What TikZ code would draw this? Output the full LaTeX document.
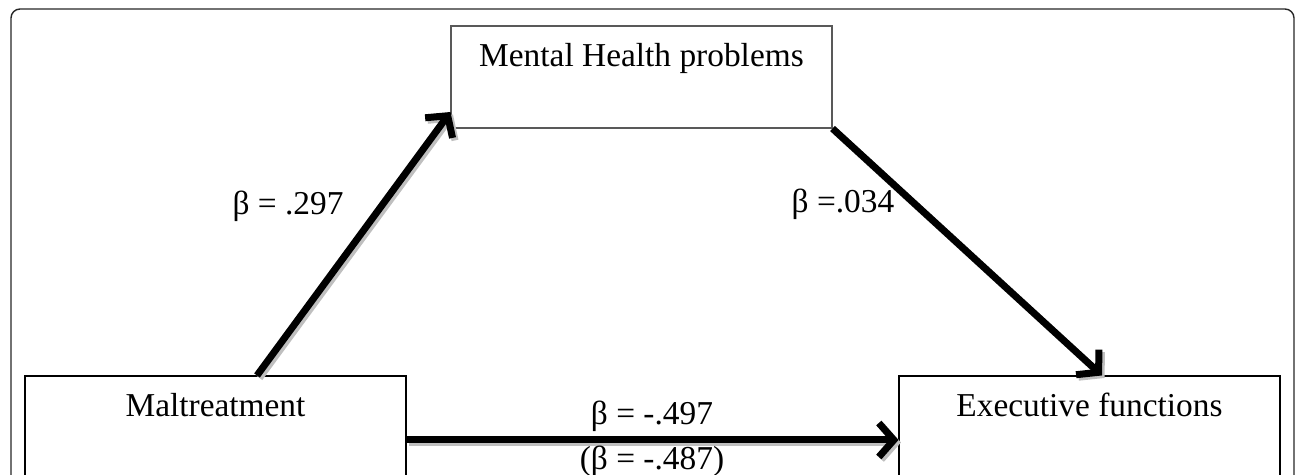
\documentclass[tikz,border=0pt]{standalone}
\usepackage{fontspec}
\setmainfont{Liberation Serif}
\usepackage{tikz}
\usetikzlibrary{
  arrows.meta,
  positioning
}

\begin{document}
\begin{tikzpicture}[
  font=\fontsize{19pt}{22pt}\selectfont,
  box/.style={rectangle, draw=#1, line width=0.6pt, minimum width=7.62cm, text height=0.82cm, text depth=1.22cm, inner sep=0pt, align=center, fill=white},
  shadowline/.style={draw=gray!50, line width=0.14cm, -{Straight Barb[length=0.3cm, width=0.68cm]}},
  arrow/.style={-{Straight Barb[length=0.3cm, width=0.68cm]}, line width=0.14cm, black},
  coef/.style={anchor=base, inner sep=0pt}
]
\useasboundingbox (0,0) rectangle (25.92,9.5);
\clip (0,0) rectangle (25.92,9.5);

% Frame
\draw[gray!30!black, line width=0.8pt, rounded corners=0.18cm] (0.22,-0.5) rectangle (25.88,9.32);

% Variables
\node[box=gray!70!black] (mental) at (12.83,7.96) {Mental Health problems};
\node[box=black] (malt) at (4.31,0.96) {Maltreatment};
\node[box=black] (exec) at (21.79,0.96) {Executive functions};

% Shadows of the paths
\begin{scope}[transform canvas={shift={(0.05cm,-0.05cm)}}]
\draw[shadowline] ([xshift=0.83cm]malt.north) -- ([yshift=-0.7cm]mental.west);
\draw[shadowline] (mental.south east) -- ([xshift=0.25cm]exec.north);
\draw[shadowline] ([yshift=-0.26cm]malt.east) -- ([yshift=-0.26cm]exec.west);
\end{scope}

% Paths
\draw[arrow] ([xshift=0.83cm]malt.north) -- ([yshift=-0.7cm]mental.west);
\draw[arrow] (mental.south east) -- ([xshift=0.25cm]exec.north);
\draw[arrow] ([yshift=-0.26cm]malt.east) -- ([yshift=-0.26cm]exec.west);

% Coefficients
\node[coef] (b1) at (5.76,5.2) {β = .297};
\node[coef] (b2) at (16.86,5.24) {β =.034};
\node[coef] (b3) at (13.04,1.0) {β = -.497};
\node[coef] (b4) at (13.04,0.1) {(β = -.487)};

\end{tikzpicture}
\end{document}
